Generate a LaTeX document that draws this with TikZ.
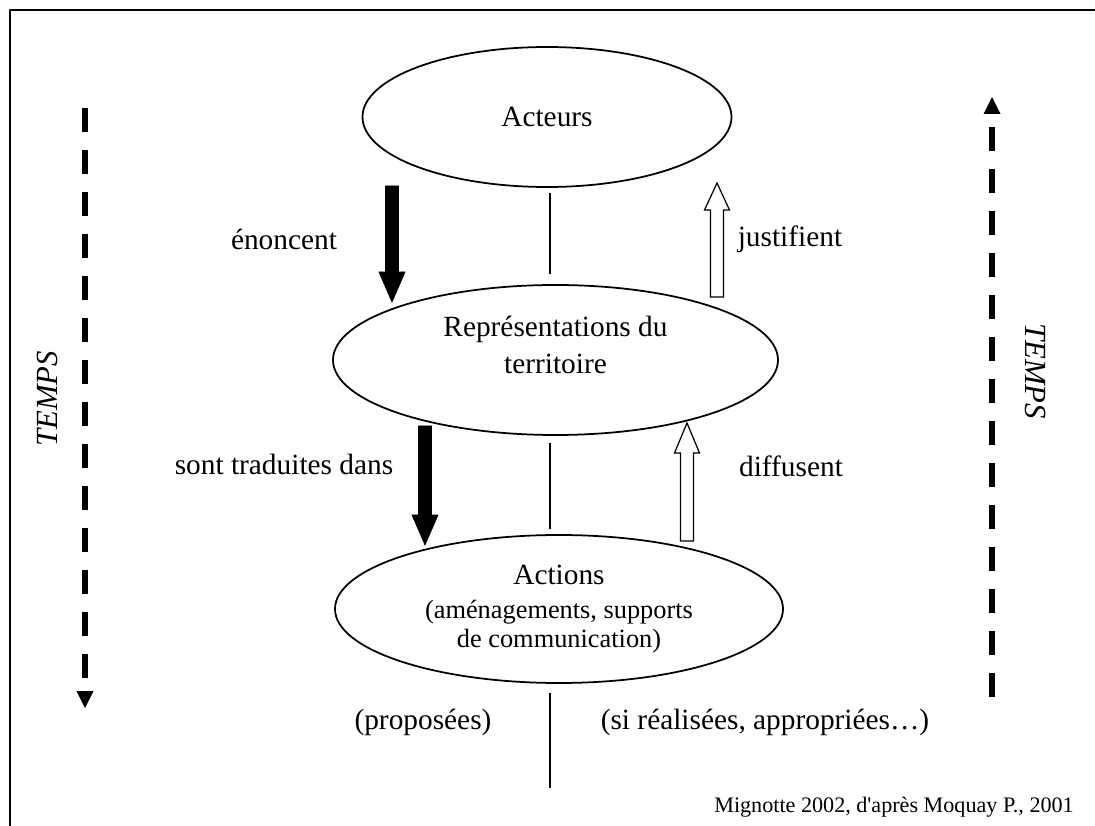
\documentclass[tikz,border=0pt]{standalone}
\usepackage{fontspec}
\setmainfont{Liberation Serif}
\usetikzlibrary{arrows.meta,shapes.geometric}
\newcommand{\subfont}{\fontsize{15}{16.5}\selectfont}
\tikzset{
  bubble/.style={ellipse,draw,line width=1pt,inner sep=0pt},
  midline/.style={line width=0.8pt},
  blackarrow/.style={fill=black,draw=black,line width=0.4pt,line join=miter},
  openarrow/.style={fill=white,draw=black,line width=0.7pt,line join=miter},
  tempsline/.style={line width=0.12cm,line cap=butt,dash pattern=on 0.48cm off 0.36cm,
    -{Triangle[width=0.34cm,length=0.34cm,line width=0pt]}},
  tempslabel/.style={font=\fontsize{17.5}{21}\selectfont\itshape}
}
\begin{document}
\begin{tikzpicture}[line join=round,font=\fontsize{16.7}{21}\selectfont]
			\useasboundingbox (0,0) rectangle (21.9,16.5);
			\draw[line width=0.04cm] (0.2,-0.5) rectangle (22.5,16.3);
			\node[bubble,minimum width=7.38cm,minimum height=2.8cm] (acteurs) at (10.94,14.16) {Acteurs};
			\node[bubble,minimum width=8.9cm,minimum height=3cm] (repr) at (11.11,9.30) {};
			\node[align=center] (reprtext) at ([yshift=0.3cm]repr.center) {Représentations du\\territoire};
			\node[bubble,minimum width=8.96cm,minimum height=2.96cm,align=center] (actions) at (11.18,4.32)
			{Actions\\[-1.6pt]{\subfont(aménagements, supports}\\[-4.5pt]{\subfont de communication)}};
			\coordinate (axis) at (11.0,0);
			\coordinate (axisend) at (11.0,0.74);
			\draw[midline,shorten <=0.1cm,shorten >=0.2cm] (acteurs.south -| axis)--(repr.north -| axis);
			\draw[midline,shorten <=0.14cm,shorten >=0.1cm] (repr.south -| axis)--(actions.north -| axis);
			\draw[midline,shorten <=0.18cm] (actions.south -| axis)--(axisend);
			\filldraw[blackarrow] (7.71,12.78)--++(0.26,0)--++(0,-1.72)--++(0.13,0)--(7.84,10.46)--++(-0.26,0.6)--++(0.13,0)--cycle;
			\filldraw[blackarrow] (8.37,7.98)--++(0.26,0)--++(0,-1.78)--++(0.13,0)--(8.5,5.6)--++(-0.26,0.6)--++(0.13,0)--cycle;
			\draw[openarrow] (14.21,10.56)--++(0.26,0)--++(0,1.74)--++(0.12,0)--(14.34,12.84)--++(-0.25,-0.54)--++(0.12,0)--cycle;
			\draw[openarrow] (13.61,5.68)--++(0.26,0)--++(0,1.76)--++(0.12,0)--(13.74,8.04)--++(-0.25,-0.6)--++(0.12,0)--cycle;
			\node (enoncent) at (5.68,11.72) {énoncent};
			\node (justifient) at (15.8,11.72) {justifient};
			\node (traduites) at (5.68,7.22) {sont traduites dans};
			\node (diffusent) at (15.82,7.18) {diffusent};
			\node (proposees) at (8.46,2.06) {(proposées)};
			\node (realisees) at (15.3,2.06) {(si réalisées, appropriées…)};
			\draw[tempsline] (1.7,14.34)--(1.7,2.34);
			\draw[tempsline] (19.84,2.56)--(19.84,14.56);
			\node[tempslabel,rotate=90] (tempsleft) at (0.94,8.52) {TEMPS};
			\node[tempslabel,rotate=-90] (tempsright) at (20.72,9.08) {TEMPS};
			\node[anchor=base east,font=\fontsize{12.6}{15}\selectfont] (source) at (21.6,0.26)
			{Mignotte 2002, d\textquotesingle après Moquay P., 2001};
\end{tikzpicture}
\end{document}
